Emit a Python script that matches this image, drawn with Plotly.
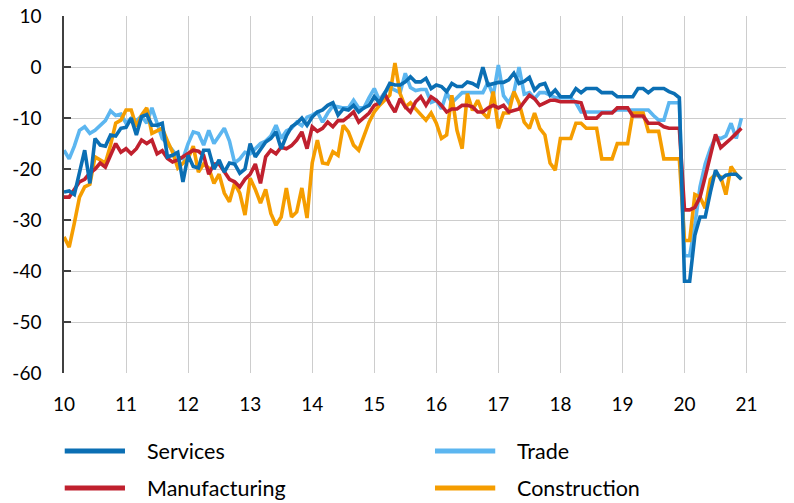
import plotly.graph_objects as go

# ---------------- data (monthly, Jan 2010 - Dec 2020) ----------------
years = [10, 11, 12, 13, 14, 15, 16, 17, 18, 19, 20]
tick_vals = [10, 11, 12, 13, 14, 15, 16, 17, 18, 19, 20, 21]
tick_text = ["10", "11", "12", "13", "14", "15", "16", "17", "18", "19", "20", "21"]
y_ticks = [10, 0, -10, -20, -30, -40, -50, -60]

services = [
    -24.5, -24.3, -25, -20.8, -16.3, -22.8, -14, -15.3, -15.5, -13.3, -13.5, -12,      # 2010
    -11.8, -10, -13.3, -9.7, -9.3, -11.4, -11.4, -11, -17.6, -17.3, -16.7, -22.5,     # 2011
    -17.3, -19.5, -19.8, -16.3, -16.3, -20, -18.2, -20.6, -18.8, -19, -20.8, -20,     # 2012
    -15, -17.6, -16, -14.7, -14, -12.7, -16, -13.5, -11.7, -11, -10, -11.4,           # 2013
    -9.8, -8.8, -8.4, -7.5, -7, -9.4, -8.2, -8.4, -7.5, -8.8, -8, -7.5,               # 2014
    -5.8, -7, -5.2, -3.2, -3.5, -3.5, -2.9, -1.9, -2.9, -2.9, -2.2, -4.2,             # 2015
    -3.5, -3.8, -4.8, -3.2, -3.8, -3.8, -2.9, -3.2, -3.8, 0, -3.5, -3.2,              # 2016
    -3, -3, -2.5, -1.2, -3.2, -2.8, -2, -4.5, -3.5, -3.2, -5.5, -4.5,                 # 2017
    -5.8, -5.8, -5.8, -4.2, -5, -4.2, -4.2, -4.2, -5, -5, -5, -5.8,                   # 2018
    -5.8, -5.8, -5.8, -4.2, -4.2, -5, -4.2, -4.2, -4.2, -4.8, -5.2, -6,               # 2019
    -42, -42, -33, -29.4, -29.4, -24.5, -20.2, -22, -21.2, -21, -21, -22,             # 2020
]

trade = [
    -16.3, -18, -15.5, -12.4, -11.7, -13, -12.4, -11.4, -10.5, -8.6, -9.5, -9.2,
    -11, -10, -10.5, -9.6, -11, -8, -11, -14, -15, -16.3, -17.6, -18,
    -15, -12.7, -13, -15.3, -12.4, -15, -13.5, -12, -14.5, -18.8, -18, -16.7,
    -17, -16, -15, -14.5, -13.5, -11.4, -14, -12.5, -12, -10.8, -11.5, -9.8,
    -9.4, -8.8, -10.8, -9, -7.6, -7.8, -8, -8, -6.5, -8, -8, -6,
    -4.2, -6.5, -5, -4, -4.6, -5, -1.2, -4, -4.6, -4.4, -4.4, -6.9,
    -6.5, -8.2, -5, -7, -6, -5, -5, -5, -5, -5, -3, -5.6,
    0.4, -5.6, -7, -5, 0, -5.3, -5, -6.2, -5, -5, -5.5, -6,
    -6, -6, -6, -7, -8.8, -8.8, -8.8, -8.8, -8.8, -8.8, -8.8, -8.4,
    -8.4, -8.4, -8.4, -8.4, -8.4, -8.4, -9.5, -10.4, -10.4, -7, -7, -7,
    -37, -37, -31, -23.5, -19, -16, -13.7, -14, -13.5, -11, -14, -10,
]

manufacturing = [
    -25.5, -25.5, -24, -22.5, -22, -20.8, -20, -18.8, -19.6, -17.2, -15, -16.7,
    -16, -17, -16, -14.3, -15, -14.3, -17, -16.4, -17.9, -18.6, -18.2, -17.6,
    -17, -16.3, -16.5, -17.3, -21, -19, -19, -20.6, -22, -22.5, -23.5, -22,
    -21, -19, -22.8, -17.6, -16.3, -17, -15.7, -16, -15.4, -14.3, -12.7, -16,
    -11.7, -12.6, -12, -10.8, -11.7, -10.5, -10.5, -9.7, -8.8, -10.8, -10, -9,
    -7.5, -7, -5.2, -7.2, -8.8, -6.2, -7.8, -8.8, -6.8, -5.8, -7.5, -5.8,
    -6.5, -7.5, -8.8, -8.2, -8.2, -7.5, -7.5, -7.8, -8.8, -8.8, -8, -7.5,
    -8, -7.5, -8.8, -8.5, -8.2, -6.8, -5.5, -6.2, -7.5, -7, -6.5, -6.5,
    -6.8, -6.8, -6.8, -6.8, -7, -10, -10, -10, -9, -9, -9, -8,
    -8, -8, -9.6, -9.6, -9.6, -11, -11, -11, -11.7, -12, -12, -12,
    -28, -28, -27.5, -25.5, -21.5, -17, -13.2, -15.8, -15, -14, -13, -12,
]

construction = [
    -33.3, -35.3, -30.6, -25.5, -23.5, -23, -17.6, -18.2, -18.8, -15.3, -11, -10.4,
    -8.4, -8.4, -11.7, -9.4, -8, -13, -12.4, -12, -14.5, -16.7, -19.8, -18.8,
    -17.9, -15.5, -20.6, -19, -19.8, -22.8, -21, -24.7, -26.4, -22.8, -24.7, -29,
    -21.8, -24, -26.7, -24, -28.7, -31, -29.4, -23.7, -29.4, -28.4, -23.7, -29.6,
    -18.8, -14.3, -18.8, -19, -16.6, -17.3, -11.4, -12.7, -15.3, -16.3, -13.5, -10.8,
    -8.8, -7.5, -6.5, -5.5, 0.8, -5.2, -7.8, -7, -8.2, -9.4, -10.4, -9,
    -11, -14, -13.3, -5.5, -12.4, -16, -5.2, -8.5, -6.5, -9, -10, -4.8,
    -12, -9, -9, -4.8, -7, -10.8, -12, -9, -12, -13.3, -18.8, -20.2,
    -14, -14, -14, -11, -11, -12, -12, -12, -18, -18, -18, -15,
    -15, -15, -9, -9, -9, -12.6, -12.6, -12.6, -18, -18, -18, -18,
    -34, -34, -25, -25.5, -27.7, -22, -21, -21.5, -25, -19.5, -21, -22,
]

series_names = ["Services", "Trade", "Manufacturing", "Construction"]
series_colors = ["#0B6FB4", "#5CB6F0", "#C0202E", "#F59D00"]

# decimal-year x positions for each monthly observation
x_months = [y + m / 12 for y in years for m in range(12)]

FONT = "Lato, 'Noto Sans', sans-serif"

fig = go.Figure()
data_map = {
    "Services": services,
    "Trade": trade,
    "Manufacturing": manufacturing,
    "Construction": construction,
}
draw_order = ["Trade", "Construction", "Manufacturing", "Services"]
for name in draw_order:
    idx = series_names.index(name)
    fig.add_trace(go.Scatter(
        x=x_months, y=data_map[name], mode="lines", name=name,
        line=dict(color=series_colors[idx], width=3.6),
        showlegend=False,
    ))

# custom 2x2 legend (long line samples like the original)
legend_pos = [(0.0, -0.2185), (0.51, -0.2185), (0.0, -0.322), (0.51, -0.322)]
for (lx, ly), name, col in zip(legend_pos, series_names, series_colors):
    fig.add_shape(type="line", xref="paper", yref="paper",
                  x0=lx + 0.001, x1=lx + 0.084, y0=ly, y1=ly,
                  line=dict(color=col, width=5))
    fig.add_annotation(xref="paper", yref="paper", x=lx + 0.111, y=ly,
                       text=name, showarrow=False, xanchor="left", yanchor="middle",
                       font=dict(family=FONT, size=21.5, color="#000000"))

# page has an 8px body margin: figure is sized/margined so the plot area
# lands at the same page pixels as the reference
fig.update_layout(
    width=786, height=495,
    margin=dict(l=56, r=4, t=8, b=130, autoexpand=False),
    paper_bgcolor="white", plot_bgcolor="white",
    font=dict(family=FONT, size=19, color="#000000"),
    showlegend=False,
)
fig.update_xaxes(
    range=[10, 21.70], tickvals=tick_vals, ticktext=tick_text,
    showgrid=True, gridcolor="#CDCDCD", gridwidth=1.3,
    zeroline=False, showline=False, ticks="", automargin=False,
    ticklabelstandoff=18, tickfont=dict(family=FONT, size=19),
    ticklabeloverflow="allow",
)
fig.update_yaxes(
    range=[-60, 10.03], tickvals=y_ticks, ticktext=[str(v) for v in y_ticks],
    showgrid=True, gridcolor="#CDCDCD", gridwidth=1.3,
    zeroline=False, showline=True, linecolor="#404040", linewidth=1.5,
    ticks="inside", ticklen=7, tickcolor="#404040", tickwidth=1.5,
    automargin=False, ticklabeloverflow="allow",
    ticklabelstandoff=17, tickfont=dict(family=FONT, size=19),
)

fig.write_html("out.html")
